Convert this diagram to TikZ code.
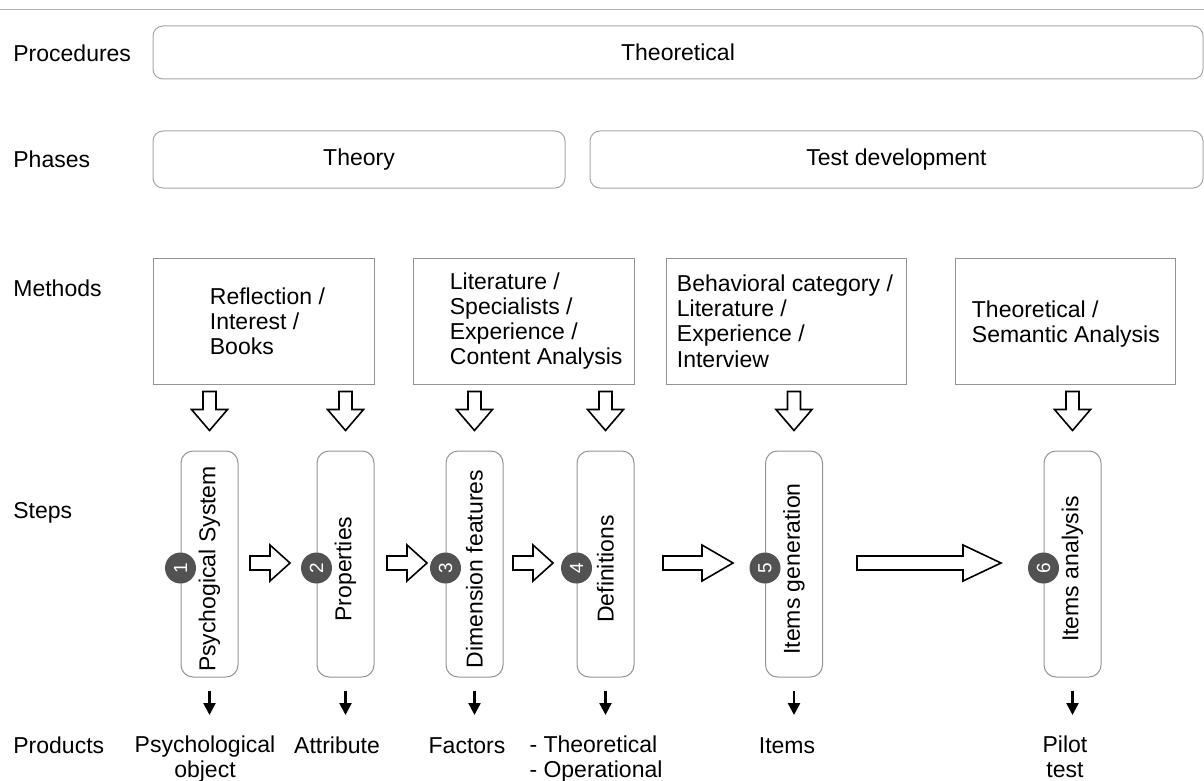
\documentclass[tikz,border=0pt]{standalone}
\usepackage{graphicx}
\usepackage{fontspec}
\setmainfont{Liberation Sans}
\usetikzlibrary{arrows.meta}

\tikzset{
  rowlabel/.style={anchor=base west, inner sep=0pt},
  phasebox/.style={draw=gray!70, rounded corners=5pt, inner sep=0pt, line width=0.5pt},
  methodbox/.style={draw=gray!85, inner sep=0pt, line width=0.5pt, minimum height=63pt},
  methodtext/.style={anchor=west, align=left, inner sep=0pt},
  stepbox/.style={draw=gray!85, rounded corners=6pt, inner sep=0pt, line width=0.5pt,
    minimum width=28.5pt, minimum height=113pt},
  steptext/.style={rotate=90, inner sep=0pt},
  stepnum/.style={circle, fill=black!68, text=white, inner sep=0pt, minimum size=15.5pt,
    font=\fontsize{9.5}{11}\selectfont},
  product/.style={anchor=north, align=center, inner sep=0pt, execute at begin node=\strut},
  hollow/.style={draw=black, fill=white, line width=0.8pt, line join=miter},
  prodarrow/.style={-{Triangle[width=6pt,length=6pt]}, line width=1.2pt,
    shorten <=6.5pt, shorten >=10pt},
  downarrow/.pic={\draw[hollow] (-6.5,-59) -- (6.5,-59) -- (6.5,-41) -- (18,-41) -- (0,-20)
    -- (-18,-41) -- (-6.5,-41) -- cycle;}
}

% hollow arrow to the right: x from, x to, head length
\newcommand{\rightblock}[3]{%
  \draw[hollow] (#1,556) -- (#2-#3,556) -- (#2-#3,545) -- (#2,563) -- (#2-#3,581)
    -- (#2-#3,570) -- (#1,570) -- cycle;}

\begin{document}
\begin{tikzpicture}[x=0.5pt, y=-0.5pt, font=\fontsize{11.5}{12.6}\selectfont]
\useasboundingbox (0,0) rectangle (1204,781);
\draw[gray!60] (0,9) -- (1204,9);

% row labels
\node[rowlabel] (lproc) at (13,62) {Procedures};
\node[rowlabel] (lphase) at (13,167) {Phases};
\node[rowlabel] (lmeth) at (13,296) {Methods};
\node[rowlabel] (lstep) at (13,518) {Steps};
\node[rowlabel] (lprod) at (13,753) {Products};

% procedures and phases
\node[phasebox, minimum width=525pt, minimum height=26.5pt] (proc) at (678,52.5) {Theoretical};
\node[phasebox, minimum width=206pt, minimum height=28.5pt] (theory) at (359,159.5) {Theory};
\node[phasebox, minimum width=306.5pt, minimum height=28.5pt] (testdev) at (896.5,159.5) {Test development};

% methods
\node[methodbox, minimum width=110.5pt] (m1) at (263.5,321) {};
\node[methodbox, minimum width=110.5pt] (m2) at (523.5,321) {};
\node[methodbox, minimum width=120pt] (m3) at (786,321) {};
\node[methodbox, minimum width=110pt] (m4) at (1065,321) {};
\node[methodtext] (mt1) at ([xshift=28.5pt]m1.west) {Reflection /\\Interest /\\Books};
\node[methodtext] (mt2) at ([xshift=18.5pt]m2.west) {Literature /\\Specialists /\\Experience /\\Content Analysis};
\node[methodtext] (mt3) at ([xshift=5.5pt]m3.west) {Behavioral category /\\Literature /\\Experience /\\Interview};
\node[methodtext] (mt4) at ([xshift=8.5pt,yshift=-1.5pt]m4.west) {Theoretical /\\Semantic Analysis};

% steps
\node[stepbox] (s1) at (209.5,564) {};
\node[stepbox] (s2) at (345.5,564) {};
\node[stepbox] (s3) at (474.5,564) {};
\node[stepbox] (s4) at (605.5,564) {};
\node[stepbox] (s5) at (794,564) {};
\node[stepbox] (s6) at (1072.5,564) {};
\node[steptext] (t1) at ([yshift=-2.5pt]s1.center) {Psychogical System};
\node[steptext] (t2) at ([yshift=-2.5pt]s2.center) {Properties};
\node[steptext] (t3) at ([yshift=-2.5pt]s3.center) {Dimension features};
\node[steptext] (t4) at ([yshift=-2.5pt]s4.center) {Definitions};
\node[steptext] (t5) at ([yshift=-2.5pt]s5.center) {Items generation};
\node[steptext] (t6) at ([yshift=-2.5pt]s6.center) {Items analysis};

\foreach \i in {1,...,6} {
  \node[stepnum] (n\i) at ([yshift=-2pt]s\i.west) {\rotatebox{90}{\i}};
  \pic at (s\i.north) {downarrow};
}

\rightblock{250}{290}{20}
\rightblock{387}{427}{20}
\rightblock{513}{553}{20}
\rightblock{663}{733}{31}
\rightblock{857}{1001}{38}

% products
\node[product] (p1) at (205,735) {Psychological\\object};
\node[product] (p2) at (337,735) {Attribute};
\node[product] (p3) at (467,735) {Factors};
\node[product, align=left] (p4) at (596,735) {- Theoretical\\- Operational};
\node[product] (p5) at (787,735) {Items};
\node[product] (p6) at (1065,735) {Pilot\\test};

\foreach \i in {1,...,6}
  \draw[prodarrow] (s\i.south) -- (s\i.south |- p\i.north);
\end{tikzpicture}
\end{document}
